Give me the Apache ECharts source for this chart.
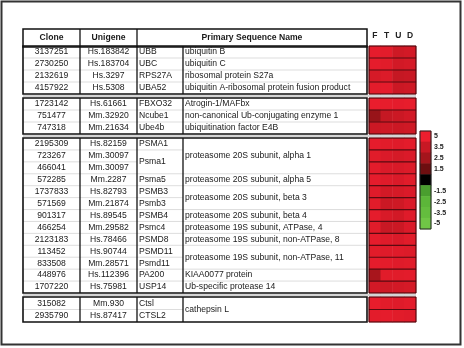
<!DOCTYPE html>
<html><head><meta charset="utf-8">
<script src="https://cdn.jsdelivr.net/npm/echarts@6/dist/echarts.min.js"></script>
<style>html,body{margin:0;padding:0;background:#fff}#c{width:464px;height:348px}</style>
</head><body><div id="c"></div>
<script>
// ---------- data ----------
const groupSizes = [4, 3, 13, 2];
const clones = ['3137251','2730250','2132619','4157922',
  '1723142','751477','747318',
  '2195309','723267','466041','572285','1737833','571569','901317','466254','2123183','113452','833508','448976','1707220',
  '315082','2935790'];
const unigenes = ['Hs.183842','Hs.183704','Hs.3297','Hs.5308',
  'Hs.61661','Mm.32920','Mm.21634',
  'Hs.82159','Mm.30097','Mm.30097','Mm.2287','Hs.82793','Mm.21874','Hs.89545','Mm.29582','Hs.78466','Hs.90744','Mm.28571','Hs.112396','Hs.75981',
  'Mm.930','Hs.87417'];
const symbols = ['UBB','UBC','RPS27A','UBA52',
  'FBXO32','Ncube1','Ube4b',
  'PSMA1','Psma1','','Psma5','PSMB3','Psmb3','PSMB4','Psmc4','PSMD8','PSMD11','Psmd11','PA200','USP14',
  'Ctsl','CTSL2'];
const symbolSpan = [1,1,1,1, 1,1,1, 1,2,0,1,1,1,1,1,1,1,1,1,1, 1,1];
const names = ['ubiquitin B','ubiquitin C','ribosomal protein S27a','ubiquitin A-ribosomal protein fusion product',
  'Atrogin-1/MAFbx','non-canonical Ub-conjugating enzyme 1','ubiquitination factor E4B',
  'proteasome 20S subunit, alpha 1','','','proteasome 20S subunit, alpha 5','proteasome 20S subunit, beta 3','',
  'proteasome 20S subunit, beta 4','proteasome 19S subunit, ATPase, 4','proteasome 19S subunit, non-ATPase, 8',
  'proteasome 19S subunit, non-ATPase, 11','','KIAA0077 protein','Ub-specific protease 14',
  'cathepsin L',''];
const nameSpan = [1,1,1,1, 1,1,1, 3,0,0,1,2,0,1,1,1,2,0,1,1, 2,0];
const headers = ['Clone','Unigene','Primary Sequence Name'];
const heatCols = ['F','T','U','D'];
const heatF = [4.6,4.6,3.9,4.5, 4.8,2.2,3.6, 4.6,4.4,4.5,4.6,4.3,4.4,4.6,4.4,4.6,4.4,4.6,2.6,3.8, 4.7,4.5];
const heatT = [4.5,4.4,4.2,4.6, 4.7,3.4,3.7, 4.4,4.1,4.1,4.3,3.8,3.6,4.0,3.5,4.3,4.3,4.5,4.4,3.7, 4.4,4.6];
const heatU = [3.7,3.8,3.4,3.6, 4.6,3.6,3.6, 4.3,3.9,4.0,4.1,3.9,3.7,3.8,3.6,4.1,4.3,4.3,4.4,3.8, 4.3,4.4];
const heatD = [3.8,3.9,3.5,3.7, 4.7,3.8,3.7, 4.5,4.1,4.2,4.4,4.1,4.1,4.3,4.1,4.4,4.2,4.4,4.5,3.9, 4.5,4.3];
const cbLabels = ['5','3.5','2.5','1.5','','-1.5','-2.5','-3.5','-5'];
const cbValues = [5, 3.5, 2.5, 1.5, 0, -1.5, -2.5, -3.5, -5];

// ---------- layout ----------
const FONT = '"Liberation Sans", Arial, sans-serif';
const HEAT_X = 369, HEAT_W = 47;
const groupLayout = [[46,48],[98,36],[138,155],[297,25]];
const CB = [420,131,11,98];
const COLS = [23,80,137,183,367];

const heat = [heatF, heatT, heatU, heatD];
const groupStart = []; let s = 0;
groupSizes.forEach(n => { groupStart.push(s); s += n; });

const grid = groupLayout.map(([t,h]) => ({left:HEAT_X, top:t, width:HEAT_W, height:h}));
grid.push({left:CB[0], top:CB[1], width:CB[2], height:CB[3]});

const xAxis = grid.map((_, k) => {
  if (k === 0) return {gridIndex:0, type:'category', data:heatCols, position:'top',
    axisLabel:{show:true, fontSize:8.5, fontWeight:'bold', color:'#222', margin:6, fontFamily:FONT},
    axisLine:{show:false}, axisTick:{show:false}, splitLine:{show:false}};
  return {gridIndex:k, type:'category', data: k < 4 ? heatCols : [''], show:false};
});
const yAxis = groupSizes.map((n, k) => ({gridIndex:k, type:'category', inverse:true,
  data: Array.from({length:n}, (_, i) => clones[groupStart[k] + i]),
  axisLabel:{show:false}, axisTick:{show:false}, axisLine:{show:false}, splitLine:{show:false}}));
yAxis.push({gridIndex:4, type:'category', inverse:true, data:cbLabels, position:'right',
  axisLabel:{fontSize:7, fontWeight:'bold', color:'#222', margin:3, fontFamily:FONT},
  axisTick:{show:false}, axisLine:{show:false}, splitLine:{show:false}});

const series = groupSizes.map((n, k) => {
  const data = [];
  for (let i = 0; i < n; i++) for (let c = 0; c < 4; c++) data.push([c, i, heat[c][groupStart[k] + i]]);
  return {type:'heatmap', xAxisIndex:k, yAxisIndex:k, data, itemStyle:{borderWidth:0}, emphasis:{disabled:true}, progressive:0};
});
series.push({type:'heatmap', xAxisIndex:4, yAxisIndex:4, data: cbValues.map((v,i)=>[0,i,v]),
  itemStyle:{borderWidth:0}, emphasis:{disabled:true}});

const chart = echarts.init(document.getElementById('c'), null, {renderer:'canvas'});
chart.setOption({
  animation:false, backgroundColor:'#fff',
  grid, xAxis, yAxis, series,
  visualMap:{show:false, type:'continuous', min:-5, max:5, seriesIndex:[0,1,2,3,4],
    inRange:{color:['#70c646','#68c040','#60ba3c','#58b236','#3c8a28','#000000','#4a0808','#901418','#b8161f','#d81a28','#ee1e2e']}}
});

// ---------- table drawn around the heatmap rows ----------
const centers = [];
groupSizes.forEach((n, k) => {
  for (let i = 0; i < n; i++) centers.push(chart.convertToPixel({seriesIndex:k}, [0, i])[1]);
});
const g = [];
const txt = (t, x, y, align, bold) => g.push({type:'text', z:100, style:{text:t, x, y, align, verticalAlign:'middle',
  fill:'#1a1a1a', font:(bold?'bold ':'') + '8.6px ' + FONT}});
const line = (x1,y1,x2,y2,stroke,lw) => g.push({type:'line', z:100, shape:{x1,y1,x2,y2}, style:{stroke, lineWidth:lw}});
const rect = (x,y,w,h,stroke,lw,fill) => g.push({type:'rect', z:100, shape:{x,y,width:w,height:h}, style:{stroke, lineWidth:lw, fill:fill||'none'}});

// outer frame
rect(1.5, 1.5, 459, 343, '#333', 2);
// header
rect(COLS[0], 29, COLS[4]-COLS[0], 18, '#111', 1.5, '#fff');
line(COLS[1], 29, COLS[1], 47, '#111', 1.3);
line(COLS[2], 29, COLS[2], 47, '#111', 1.3);
txt(headers[0], (COLS[0]+COLS[1])/2, 38, 'center', true);
txt(headers[1], (COLS[1]+COLS[2])/2, 38, 'center', true);
txt(headers[2], (COLS[2]+COLS[4])/2, 38, 'center', true);

const boxes = [];
groupSizes.forEach((n, k) => {
  const a = groupStart[k], b = a + n - 1;
  const step = n > 1 ? (centers[b]-centers[a])/(n-1) : 12;
  const top = centers[a] - step/2, bot = centers[b] + step/2;
  boxes.push([top, bot]);
  for (let r = a; r < b; r++) {
    const y = (centers[r] + centers[r+1]) / 2;
    line(COLS[0], y, COLS[2], y, '#d4d4d4', 0.8);
    if (symbolSpan[r+1] !== 0) line(COLS[2], y, COLS[3], y, '#d4d4d4', 0.8);
    if (nameSpan[r+1] !== 0) line(COLS[3], y, COLS[4], y, '#d4d4d4', 0.8);
    // dark separators between heatmap rows
    line(HEAT_X, y, HEAT_X + HEAT_W, y, '#5a0a10', 1.2);
  }
  rect(COLS[0], top, COLS[4]-COLS[0], bot-top, '#111', 1.6);
  for (let c = 1; c <= 3; c++) line(COLS[c], top, COLS[c], bot, '#111', 1.3);
  rect(HEAT_X, groupLayout[k][0], HEAT_W, groupLayout[k][1], '#3a0508', 1);
});
for (let k = 0; k < boxes.length - 1; k++) {
  const y = (boxes[k][1] + boxes[k+1][0]) / 2;
  line(COLS[0], y, HEAT_X + HEAT_W, y, '#aaa', 1);
}
for (let r = 0; r < clones.length; r++) {
  const y = centers[r];
  txt(clones[r], (COLS[0]+COLS[1])/2, y, 'center');
  txt(unigenes[r], (COLS[1]+COLS[2])/2, y, 'center');
  if (symbolSpan[r] > 0) {
    const ys = (centers[r] + centers[r + symbolSpan[r] - 1]) / 2;
    txt(symbols[r], COLS[2] + 2, ys, 'left');
  }
  if (nameSpan[r] > 0) {
    const yn = (centers[r] + centers[r + nameSpan[r] - 1]) / 2;
    txt(names[r], COLS[3] + 2, yn, 'left');
  }
}
rect(CB[0], CB[1], CB[2], CB[3], '#222', 1);

chart.setOption({graphic: g});
</script>
</body></html>
